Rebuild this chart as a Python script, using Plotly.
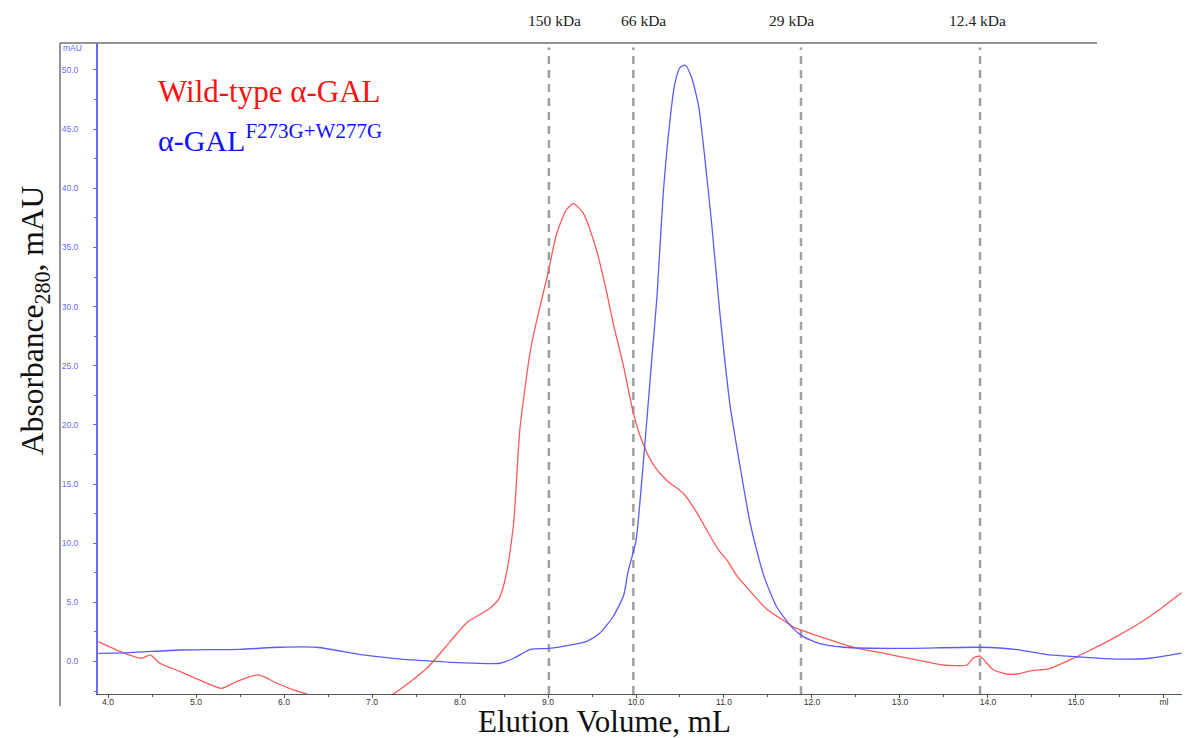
import plotly.graph_objects as go

# Size-exclusion chromatogram, absorbance at 280 nm versus elution volume
wt_volume = [3.89, 4.14, 4.38, 4.48, 4.59, 4.82, 5.08, 5.29, 5.46, 5.71, 5.92, 6.11, 6.26,
             6.5, 6.8, 7.0, 7.24, 7.62, 7.89, 8.08, 8.34, 8.45, 8.53, 8.61, 8.68, 8.80,
             8.89, 8.99, 9.10, 9.21, 9.29, 9.40, 9.55, 9.67, 9.74, 9.86, 9.97, 10.08,
             10.20, 10.35, 10.54, 10.69, 10.85, 10.95, 11.03, 11.14, 11.22, 11.41, 11.49,
             11.71, 11.79, 12.05, 12.47, 12.81, 13.19, 13.49, 13.76, 13.83, 13.91, 13.97,
             14.06, 14.21, 14.33, 14.48, 14.70, 14.93, 15.12, 15.46, 15.84, 16.2]
wt_abs = [1.67, 0.83, 0.27, 0.55, -0.15, -0.86, -1.7, -2.27, -1.7, -1.14, -1.84, -2.4, -2.75,
          -3.3, -3.6, -3.4, -2.75, -0.6, 1.7, 3.3, 4.5, 5.4, 7.5, 11.7, 19.6, 26.3,
          29.4, 32.5, 36.2, 38.2, 38.7, 37.9, 34.8, 31.1, 28.6, 24.9, 21.0, 18.4,
          16.6, 15.3, 14.2, 12.6, 10.5, 9.3, 8.6, 7.3, 6.6, 5.0, 4.4,
          3.3, 2.9, 2.2, 1.2, 0.7, 0.13, -0.3, -0.3, 0.27, 0.46, 0.0,
          -0.7, -1.06, -1.06, -0.8, -0.6, 0.13, 0.8, 2.1, 3.8, 5.8]

mut_volume = [3.89, 4.25, 4.82, 5.5, 5.95, 6.37, 6.90, 7.36, 7.47, 8.0, 8.45, 8.61, 8.80,
              9.02, 9.44, 9.59, 9.74, 9.86, 9.91, 10.0, 10.06, 10.10, 10.18, 10.24, 10.31,
              10.39, 10.44, 10.50, 10.56, 10.63, 10.71, 10.78, 10.86, 10.95, 11.07, 11.18,
              11.30, 11.45, 11.60, 11.77, 11.90, 12.09, 12.36, 13.0, 13.91, 14.33, 14.70,
              15.0, 15.46, 15.84, 16.2]
mut_abs = [0.69, 0.75, 0.97, 1.03, 1.2, 1.2, 0.55, 0.18, 0.13, -0.1, -0.15, 0.27, 1.03,
           1.1, 1.7, 2.4, 3.8, 5.6, 7.6, 10.2, 14.8, 18.3, 25.6, 31.0, 39.6,
           46.0, 48.8, 50.2, 50.4, 49.4, 47.0, 42.7, 37.0, 29.7, 21.6, 16.6,
           11.6, 7.3, 4.6, 2.9, 2.1, 1.5, 1.2, 1.1, 1.2, 1.0, 0.55,
           0.4, 0.2, 0.27, 0.7]

# Molecular-weight standards
marker_volume = [9.01, 9.97, 11.875, 13.91]
marker_label_x = [9.075, 10.09, 11.77, 13.88]
marker_labels = ["150 kDa", "66 kDa", "29 kDa", "12.4 kDa"]

x_tick_vals = [4, 5, 6, 7, 8, 9, 10, 11, 12, 13, 14, 15, 16]
x_tick_text = ["4.0", "5.0", "6.0", "7.0", "8.0", "9.0", "10.0", "11.0", "12.0",
               "13.0", "14.0", "15.0", "ml"]
y_tick_vals = [0, 5, 10, 15, 20, 25, 30, 35, 40, 45, 50]
y_tick_text = ["0.0", "5.0", "10.0", "15.0", "20.0", "25.0", "30.0", "35.0", "40.0",
               "45.0", "50.0"]

SERIF = "Liberation Serif, Times New Roman, serif"
SANS = "Liberation Sans, Arial, sans-serif"
AXIS_BLUE = "#6a6aff"

fig = go.Figure()
fig.add_trace(go.Scatter(x=wt_volume, y=wt_abs, mode="lines",
                         line=dict(color="#ff5a5a", width=1.3, shape="spline", smoothing=0.6),
                         hoverinfo="skip"))
fig.add_trace(go.Scatter(x=mut_volume, y=mut_abs, mode="lines",
                         line=dict(color="#5a5aff", width=1.3, shape="spline", smoothing=0.6),
                         hoverinfo="skip"))

shapes = []
for v in marker_volume:
    shapes.append(dict(type="line", xref="x", yref="paper", x0=v, x1=v, y0=0, y1=0.993,
                       line=dict(color="#a0a0a0", width=2.5, dash="8px,6px"), layer="below"))
# outer frame lines
frame_left = (60 - 98) / 1084
frame_right = (1097 - 98) / 1084
shapes.append(dict(type="line", xref="paper", yref="paper", x0=frame_left, x1=frame_right,
                   y0=1.0, y1=1.0, line=dict(color="#707070", width=1.5)))
shapes.append(dict(type="line", xref="paper", yref="paper", x0=frame_left, x1=frame_left,
                   y0=1.0, y1=-0.0184, line=dict(color="#707070", width=1.5)))

annotations = []
for lx, lab in zip(marker_label_x, marker_labels):
    annotations.append(dict(x=lx, y=1.0353, xref="x", yref="paper", text=lab,
                            showarrow=False, xanchor="center", yanchor="middle",
                            font=dict(family=SERIF, size=15.5, color="#222222")))
annotations += [
    dict(x=-0.0341, y=0.9923, xref="paper", yref="paper", text="mAU", showarrow=False,
         xanchor="left", yanchor="middle", font=dict(family=SANS, size=8.5, color=AXIS_BLUE)),
    dict(x=-0.0581, y=0.5745, xref="paper", yref="paper", textangle=-90,
         text="Absorbance<sub>280</sub>, mAU", showarrow=False,
         xanchor="center", yanchor="middle", font=dict(family=SERIF, size=31.5, color="#111111")),
    dict(x=0.4668, y=-0.043, xref="paper", yref="paper", text="Elution Volume, mL",
         showarrow=False, xanchor="center", yanchor="middle",
         font=dict(family=SERIF, size=31, color="#111111")),
    dict(x=(156 - 98) / 1084, y=(694 - 91) / 651, xref="paper", yref="paper",
         text="Wild-type α-GAL", showarrow=False, xanchor="left", yanchor="middle",
         font=dict(family=SERIF, size=31, color="#ff1010")),
    dict(x=(156 - 98) / 1084, y=(694 - 138) / 651, xref="paper", yref="paper",
         text="α-GAL<sup>F273G+W277G</sup>", showarrow=False, xanchor="left", yanchor="middle",
         font=dict(family=SERIF, size=30, color="#1010ff")),
]

fig.update_layout(
    width=1188, height=738, autosize=False,
    margin=dict(l=98, r=6, t=43, b=44, pad=0),
    paper_bgcolor="white", plot_bgcolor="white",
    showlegend=False,
    shapes=shapes, annotations=annotations,
    xaxis=dict(range=[3.886, 16.205], showgrid=False, zeroline=False,
               showline=True, linecolor="#555555", linewidth=1,
               tickmode="array", tickvals=x_tick_vals, ticktext=x_tick_text,
               ticks="outside", ticklen=3, tickcolor="#555555",
               minor=dict(dtick=0.5, ticks="outside", ticklen=2, tickcolor="#555555"),
               ticklabelstandoff=-3,
               tickfont=dict(family=SANS, size=8.5, color="#333333")),
    yaxis=dict(range=[-2.75, 52.28], showgrid=False, zeroline=False,
               showline=True, linecolor=AXIS_BLUE, linewidth=2,
               tickmode="array", tickvals=y_tick_vals, ticktext=y_tick_text,
               ticks="outside", ticklen=3, tickcolor=AXIS_BLUE,
               minor=dict(dtick=2.5, ticks="outside", ticklen=2, tickcolor=AXIS_BLUE),
               ticklabelstandoff=13,
               tickfont=dict(family=SANS, size=8.5, color=AXIS_BLUE)),
)

fig.write_html("out.html")
